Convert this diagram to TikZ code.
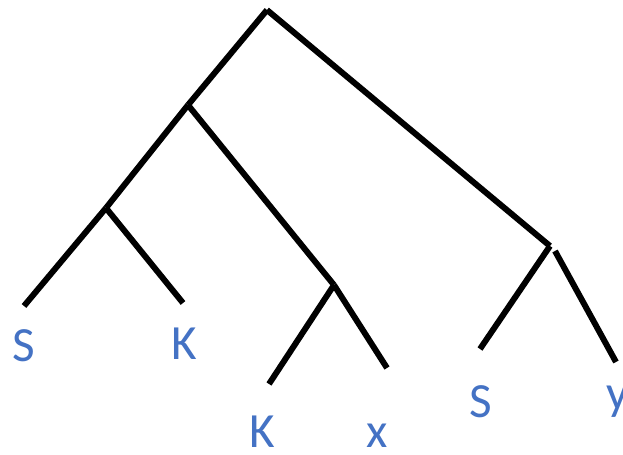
\documentclass[tikz,border=0pt]{standalone}
\usepackage{fontspec}
\setmainfont{Carlito}
\usepackage{xcolor}
\definecolor{leafblue}{HTML}{4472C4}

\begin{document}
\begin{tikzpicture}[
    x=0.02cm, y=-0.02cm,
    branch/.style={line width=3.4pt, black},
    leaf/.style={anchor=base, text=leafblue, inner sep=0pt, font=\fontsize{28}{34}\selectfont}
]
    \useasboundingbox (0,0) rectangle (623,455);

    % junctions
    \coordinate (root) at (267,10);
    \coordinate (sk) at (188,105);
    \coordinate (skl) at (106,208);
    \coordinate (kx) at (334,285);
    \coordinate (sy) at (550,246);

    % ends of the branches
    \coordinate (s1end) at (24,306);
    \coordinate (k1end) at (183,303);
    \coordinate (k2end) at (269,384);
    \coordinate (xend) at (387,368);
    \coordinate (s2end) at (480,349);
    \coordinate (ystart) at (555,251);
    \coordinate (yend) at (616,362);

    \node [leaf] (s1) at (24,362) {S};
    \node [leaf] (k1) at (184,360) {K};
    \node [leaf] (k2) at (262,448) {K};
    \node [leaf] (x) at (377,448) {x};
    \node [leaf] (s2) at (481,418) {S};
    \node [leaf] (y) at (618,410) {y};

    \draw [branch] (root) -- (sk);
    \draw [branch] (root) -- (sy);
    \draw [branch] (sk) -- (skl);
    \draw [branch] (sk) -- (kx);
    \draw [branch] (skl) -- (s1end);
    \draw [branch] (skl) -- (k1end);
    \draw [branch] (kx) -- (k2end);
    \draw [branch] (kx) -- (xend);
    \draw [branch] (sy) -- (s2end);
    \draw [branch] (ystart) -- (yend);
\end{tikzpicture}
\end{document}
